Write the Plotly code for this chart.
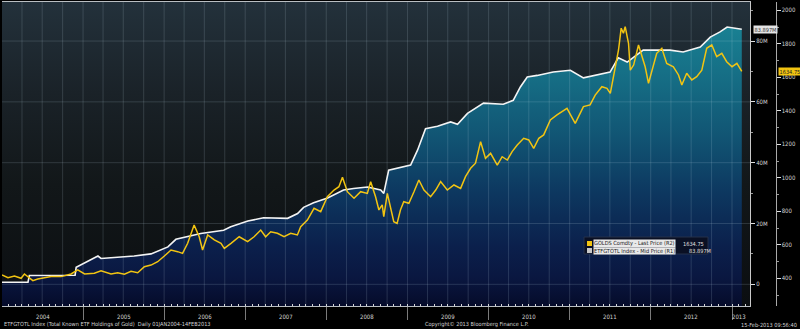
import plotly.graph_objects as go
import pandas as pd

# ---- Total known ETF holdings of gold (millions of troy oz), right axis R1
etf_dates = [
    "2004-01-02", "2004-04-28", "2004-05-04", "2004-11-26", "2004-12-01",
    "2005-02-06", "2005-03-09", "2005-03-23", "2005-06-08", "2005-08-19",
    "2005-11-03", "2006-01-18", "2006-02-23", "2006-05-01", "2006-06-15",
    "2006-09-26", "2006-10-28", "2007-01-13", "2007-03-25", "2007-07-11",
    "2007-08-25", "2007-09-21", "2007-11-05", "2008-01-07", "2008-03-19",
    "2008-05-03", "2008-07-05", "2008-09-02", "2008-09-16", "2008-10-08",
    "2009-01-15", "2009-02-15", "2009-03-23", "2009-05-16", "2009-07-14",
    "2009-08-14", "2009-09-28", "2009-12-09", "2010-03-08", "2010-04-22",
    "2010-05-24", "2010-06-24", "2010-08-08", "2010-10-19", "2011-01-04",
    "2011-03-04", "2011-05-19", "2011-07-02", "2011-08-08", "2011-09-17",
    "2011-11-28", "2012-03-28", "2012-05-26", "2012-08-11", "2012-09-25",
    "2012-11-08", "2012-12-10", "2013-02-14",
]
etf_mn_oz = [
    0.7, 0.7, 2.9, 3.0, 5.6,
    8.0, 9.3, 8.5, 8.9, 9.3,
    10.0, 12.3, 14.8, 16.0, 16.7,
    17.8, 18.9, 20.8, 21.9, 21.7,
    23.3, 25.3, 26.8, 28.4, 31.0,
    31.5, 32.0, 31.0, 29.9, 37.5,
    39.2, 44.1, 51.2, 52.0, 53.4,
    52.6, 56.2, 59.6, 59.2, 60.5,
    64.9, 68.2, 68.7, 69.8, 70.4,
    67.9, 69.1, 69.8, 74.5, 73.1,
    77.0, 77.0, 76.4, 78.0, 81.3,
    83.0, 84.6, 83.897,
]

# ---- Gold spot, last price (USD/oz), right axis R2
gold_dates = [
    "2004-01-02", "2004-01-29", "2004-02-27", "2004-03-28", "2004-04-12", "2004-04-27",
    "2004-05-20", "2004-06-11", "2004-07-11", "2004-08-10", "2004-09-24", "2004-11-08", "2004-12-08",
    "2005-01-08", "2005-02-21", "2005-03-23", "2005-05-07", "2005-06-06", "2005-07-06",
    "2005-08-05", "2005-09-04", "2005-10-04", "2005-11-03", "2005-12-03",
    "2006-01-02", "2006-02-01", "2006-03-03", "2006-03-25", "2006-04-17", "2006-05-16",
    "2006-06-08", "2006-06-23", "2006-07-16", "2006-08-15", "2006-09-14", "2006-09-29",
    "2006-10-29", "2006-12-05",
    "2007-01-12", "2007-02-10", "2007-03-12", "2007-04-03", "2007-04-26", "2007-05-26",
    "2007-06-25", "2007-07-25", "2007-08-24", "2007-09-08", "2007-10-08", "2007-11-07", "2007-12-07",
    "2008-01-06", "2008-02-05", "2008-02-27", "2008-03-14", "2008-04-05", "2008-05-05",
    "2008-06-04", "2008-07-04", "2008-07-19", "2008-08-10", "2008-08-25", "2008-09-09",
    "2008-09-16", "2008-10-02", "2008-10-17", "2008-10-31", "2008-11-15", "2008-11-30", "2008-12-15",
    "2009-01-07", "2009-01-30", "2009-02-21", "2009-03-16", "2009-04-15", "2009-05-08",
    "2009-05-30", "2009-06-29", "2009-07-29", "2009-08-28", "2009-09-19", "2009-10-12",
    "2009-11-03", "2009-11-26", "2009-12-18",
    "2010-01-10", "2010-02-09", "2010-03-03", "2010-03-26", "2010-04-17", "2010-05-10",
    "2010-06-08", "2010-07-01", "2010-07-23", "2010-08-15", "2010-09-06", "2010-10-06",
    "2010-11-05", "2010-12-05", "2010-12-20",
    "2011-01-26", "2011-03-04", "2011-04-03", "2011-04-26", "2011-05-26", "2011-06-18",
    "2011-07-03", "2011-07-18", "2011-08-09", "2011-08-21", "2011-08-31", "2011-09-08",
    "2011-09-23", "2011-10-01", "2011-10-16", "2011-11-07", "2011-11-22", "2011-12-07", "2011-12-22",
    "2012-01-06", "2012-01-28", "2012-02-20", "2012-03-13", "2012-04-12", "2012-05-05",
    "2012-05-20", "2012-06-11", "2012-07-04", "2012-07-26", "2012-08-18", "2012-09-09",
    "2012-10-02", "2012-10-24", "2012-11-16", "2012-12-08",
    "2013-01-01", "2013-01-23", "2013-02-14",
]
gold_usd = [
    420, 404, 414, 400, 426, 410,
    386, 396, 402, 410, 410, 426, 450,
    426, 430, 445, 426, 433, 424,
    442, 433, 469, 479, 499,
    533, 569, 559, 549, 609, 718,
    648, 569, 659, 629, 609, 579,
    609, 648,
    619, 648, 688, 648, 678, 669,
    648, 669, 659, 708, 748, 818, 798,
    887, 927, 947, 1003, 917, 878,
    917, 907, 977, 887, 808, 838,
    768, 907, 808, 738, 728, 808, 857,
    848, 917, 987, 927, 887, 927,
    977, 927, 957, 937, 1007, 1057,
    1087, 1216, 1116,
    1146, 1076, 1126, 1106, 1156, 1196,
    1236, 1226, 1176, 1236, 1256, 1345,
    1375, 1405, 1415,
    1325, 1425, 1435, 1494, 1544, 1534,
    1504, 1604, 1763, 1893, 1863, 1902,
    1803, 1643, 1673, 1793, 1733, 1663, 1564,
    1643, 1743, 1773, 1683, 1663, 1614,
    1554, 1624, 1584, 1604, 1643, 1773,
    1793, 1723, 1743, 1693,
    1663, 1683, 1634.75,
]

# ---- Axis setup
X_START, X_END = "2004-01-02", "2013-03-23"
Y1_RANGE = [-7.13, 92.84]          # ETF holdings, millions
Y2_RANGE = [234.6, 2049.5]         # gold price
y1_ticks = [0, 20, 40, 60, 80]
y1_labels = ["0", "20M", "40M", "60M", "80M"]
y2_ticks = [400, 600, 800, 1000, 1200, 1400, 1600, 1800, 2000]
years = list(range(2004, 2014))

FONT = "Liberation Sans Narrow, DejaVu Sans Condensed, Liberation Sans, Arial, sans-serif"
TXT = "#d4d4d4"
SMALL = 5.6

# page geometry (pixels) used to place decorations in paper coordinates
ML, MR, MT, MB = 2, 0, 2, 23
W, H = 800, 329
PW, PH = W - ML - MR, H - MT - MB
PLOT_RIGHT = 750


def px_x(px):
    return (px - ML) / PW


def px_y(py):
    return (MT + PH - py) / PH


fig = go.Figure()

# plot background: dark slate fading towards black
fig.add_trace(go.Scatter(
    x=[X_START, X_END, X_END, X_START], y=[Y1_RANGE[0], Y1_RANGE[0], Y1_RANGE[1], Y1_RANGE[1]],
    mode="lines", line=dict(width=0), fill="toself",
    fillgradient=dict(type="vertical", start=Y1_RANGE[0], stop=Y1_RANGE[1],
                      colorscale=[[0, "#0b0e11"], [0.4, "#121719"], [0.7, "#1a2228"], [1, "#23313b"]]),
    hoverinfo="skip", showlegend=False))

# baseline at the bottom of the plot for the holdings area
fig.add_trace(go.Scatter(
    x=[etf_dates[0], etf_dates[-1]], y=[Y1_RANGE[0], Y1_RANGE[0]],
    mode="lines", line=dict(width=0), hoverinfo="skip", showlegend=False))

# ETF holdings area (teal to navy gradient) with white outline
fig.add_trace(go.Scatter(
    x=etf_dates, y=etf_mn_oz, mode="lines", name="ETFGTOTL Index - Mid Price (R1)",
    line=dict(color="#f4f4f4", width=1.6), fill="tonexty",
    fillgradient=dict(type="vertical", start=Y1_RANGE[0], stop=Y1_RANGE[1],
                      colorscale=[[0, "#050b2a"], [0.092, "#0a1740"], [0.199, "#0b204c"],
                                  [0.376, "#0d3860"], [0.553, "#115473"], [0.73, "#156b83"],
                                  [0.96, "#1a8596"], [1, "#1b8a9a"]]),
    showlegend=False))

# gold price line
fig.add_trace(go.Scatter(
    x=gold_dates, y=gold_usd, mode="lines", yaxis="y2", name="GOLDS Comdty - Last Price (R2)",
    line=dict(color="#f2c411", width=1.5), showlegend=False))

# grid: quarterly verticals and R1 major horizontals, drawn faintly over the fill
GRID = "rgba(200,225,235,0.16)"
shapes = []
for d in pd.date_range("2004-04-01", X_END, freq="QS"):
    shapes.append(dict(type="line", xref="x", yref="paper", x0=d, x1=d, y0=0, y1=1,
                       line=dict(color=GRID, width=1), layer="above"))
for t in y1_ticks:
    shapes.append(dict(type="line", xref="x domain", yref="y", x0=0, x1=1, y0=t, y1=t,
                       line=dict(color=GRID, width=1), layer="above"))

# legend panel
LG_L, LG_R, LG_T, LG_B = 584, 708, 237, 254
shapes.append(dict(type="rect", xref="paper", yref="paper",
                   x0=px_x(LG_L), x1=px_x(LG_R), y0=px_y(LG_B), y1=px_y(LG_T),
                   fillcolor="#0a1024", line=dict(color="#24304a", width=1), layer="above"))
rows = [
    ("#f2c411", "GOLDS Comdty - Last Price (R2)", f"{gold_usd[-1]:.2f}", 243.5, 681),
    ("#c8c8c8", "ETFGTOTL Index - Mid Price (R1)", f"{etf_mn_oz[-1]:.3f}M", 250.5, 687),
]
annotations = []
for color, label, value, yc, vx in rows:
    shapes.append(dict(type="rect", xref="paper", yref="paper",
                       x0=px_x(587), x1=px_x(592), y0=px_y(yc + 2.5), y1=px_y(yc - 2.5),
                       fillcolor=color, line=dict(width=0), layer="above"))
    annotations.append(dict(xref="paper", yref="paper", x=px_x(593), y=px_y(yc), text=label,
                            xanchor="left", yanchor="middle", showarrow=False, bgcolor="#e9e9e9",
                            borderpad=0, font=dict(family=FONT, size=SMALL, color="#1a1a1a")))
    annotations.append(dict(xref="paper", yref="paper", x=px_x(vx), y=px_y(yc), text=value,
                            xanchor="left", yanchor="middle", showarrow=False,
                            font=dict(family=FONT, size=SMALL, color="#e0e0e0")))

# last value tags on the axes
annotations.append(dict(xref="paper", yref="y", x=px_x(752.5), y=etf_mn_oz[-1],
                        text=f"{etf_mn_oz[-1]:.3f}M", xanchor="left", yanchor="middle",
                        showarrow=False, bgcolor="#e4e4e4", borderpad=0.5,
                        font=dict(family=FONT, size=SMALL, color="#333333")))
annotations.append(dict(xref="paper", yref="y2", x=px_x(777.5), y=gold_usd[-1],
                        text=f"{gold_usd[-1]:.2f}", xanchor="left", yanchor="middle",
                        showarrow=False, bgcolor="#f2c411", borderpad=0.5,
                        font=dict(family=FONT, size=SMALL, color="#222222")))

# year labels centred on the visible part of each year
x0_ts = pd.Timestamp(X_START)
for yr in years:
    a = max(pd.Timestamp(f"{yr}-01-01"), x0_ts)
    b = min(pd.Timestamp(f"{yr + 1}-01-01"), pd.Timestamp(gold_dates[-1]) + pd.Timedelta(days=15))
    annotations.append(dict(xref="x", yref="paper", x=a + (b - a) / 2, y=px_y(316.5),
                            text=str(yr), showarrow=False, xanchor="center", yanchor="middle",
                            font=dict(family=FONT, size=6, color=TXT)))

# footer
annotations += [
    dict(xref="paper", yref="paper", x=0, y=px_y(324.5), xanchor="left", yanchor="middle",
         text="ETFGTOTL Index (Total Known ETF Holdings of Gold)  Daily 01JAN2004-14FEB2013",
         showarrow=False, font=dict(family=FONT, size=SMALL, color=TXT)),
    dict(xref="paper", yref="paper", x=px_x(423), y=px_y(324.5), xanchor="left", yanchor="middle",
         text="Copyright\u00a9 2013 Bloomberg Finance L.P.",
         showarrow=False, font=dict(family=FONT, size=SMALL, color=TXT)),
    dict(xref="paper", yref="paper", x=px_x(799), y=px_y(324.5), xanchor="right", yanchor="middle",
         text="15-Feb-2013 09:56:40",
         showarrow=False, font=dict(family=FONT, size=SMALL, color=TXT)),
]

fig.update_layout(
    width=W, height=H,
    margin=dict(l=ML, r=MR, t=MT, b=MB),
    paper_bgcolor="#000000", plot_bgcolor="#000000",
    template="none", showlegend=False,
    font=dict(family=FONT, size=6, color=TXT),
    xaxis=dict(
        type="date", range=[X_START, X_END], domain=[0, px_x(PLOT_RIGHT)],
        showgrid=False, zeroline=False, automargin=False,
        tickvals=[f"{y}-01-01" for y in years], ticktext=["" for _ in years],
        ticks="outside", ticklen=13, tickcolor="#7a7a7a", tickwidth=1,
        showline=True, linecolor="#b9bec2", linewidth=1, mirror=True,
        minor=dict(ticks="inside", dtick="M1", tick0="2004-01-01", ticklen=2,
                   tickcolor="#d8d8d8", tickwidth=1),
    ),
    yaxis=dict(
        range=Y1_RANGE, side="right", anchor="x", automargin=False,
        tickvals=y1_ticks, ticktext=y1_labels, ticks="outside", ticklen=4,
        tickcolor="#e0e0e0", showline=True, linecolor="#c9c9c9", linewidth=1,
        showgrid=False, zeroline=False, tickfont=dict(family=FONT, size=6, color=TXT),
        minor=dict(ticks="outside", dtick=10, tick0=0, ticklen=2, tickcolor="#9a9a9a"),
    ),
    yaxis2=dict(
        range=Y2_RANGE, overlaying="y", side="right", anchor="free",
        position=px_x(775.5), automargin=False,
        tickvals=y2_ticks, ticks="outside", ticklen=4, tickcolor="#e0e0e0",
        showline=True, linecolor="#a9a9a9", linewidth=1,
        showgrid=False, zeroline=False, tickfont=dict(family=FONT, size=6, color=TXT),
        minor=dict(ticks="outside", dtick=100, tick0=0, ticklen=2, tickcolor="#9a9a9a"),
    ),
    shapes=shapes,
    annotations=annotations,
)

fig.write_html("out.html")
